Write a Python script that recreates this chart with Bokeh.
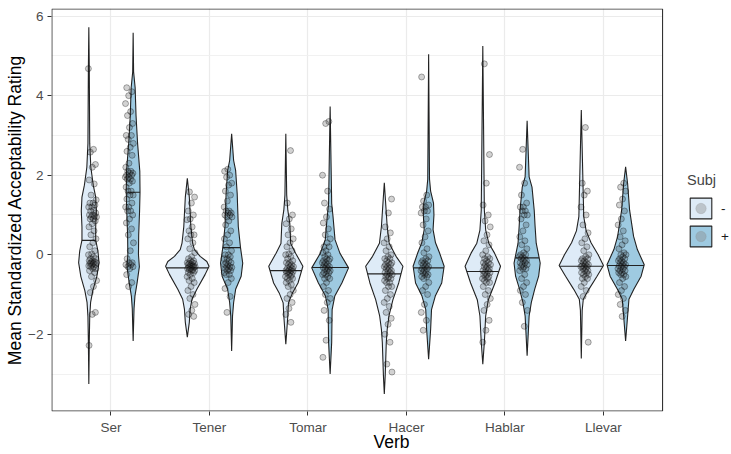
import numpy as np
from bokeh.plotting import figure
from bokeh.models import Range1d, FixedTicker, Legend, LegendItem
from bokeh.embed import file_html
from bokeh.resources import INLINE

verbs = ["Ser", "Tener", "Tomar", "Hacer", "Hablar", "Llevar"]
subj_levels = ["-", "+"]
fill_colors = ["#deebf7", "#9ecae1"]

# ---- violin outlines: rating levels and scaled density (1 = widest violin) ----
ser_m_y = [5.72, 4.7, 2.8, 2.2, 1.75, 1.45, 1.1, 0.7, 0.37, 0.1, -0.2, -0.55, -0.9, -1.2, -1.55, -2.2, -3.25]
ser_m_d = [0, 0.02, 0.04, 0.09, 0.2, 0.31, 0.34, 0.31, 0.31, 0.41, 0.46, 0.36, 0.18, 0.08, 0.04, 0.02, 0]
ser_p_y = [5.58, 4.6, 4.2, 3.5, 2.8, 2.1, 1.57, 1.1, 0.5, 0.0, -0.3, -0.7, -1.04, -1.35, -2.17]
ser_p_d = [0, 0.02, 0.09, 0.13, 0.2, 0.3, 0.31, 0.29, 0.25, 0.24, 0.28, 0.18, 0.08, 0.04, 0]
ten_m_y = [1.92, 1.45, 0.7, 0.29, 0.13, -0.04, -0.17, -0.29, -0.5, -0.87, -1.12, -1.37, -1.7, -2.07]
ten_m_d = [0, 0.09, 0.16, 0.24, 0.32, 0.58, 0.88, 0.98, 0.8, 0.43, 0.21, 0.13, 0.09, 0]
ten_p_y = [3.04, 2.37, 2.12, 1.54, 0.71, 0.18, -0.21, -0.54, -0.87, -1.2, -1.54, -2.42]
ten_p_d = [0, 0.09, 0.18, 0.25, 0.3, 0.4, 0.5, 0.43, 0.18, 0.09, 0.04, 0]
tom_m_y = [3.04, 1.5, 1.12, 0.79, 0.28, 0.04, -0.29, -0.71, -0.96, -1.21, -1.54, -2.25]
tom_m_d = [0, 0.04, 0.09, 0.18, 0.22, 0.44, 0.77, 0.55, 0.3, 0.12, 0.09, 0]
tom_p_y = [3.73, 1.29, 0.96, 0.38, 0.04, -0.33, -0.71, -1.04, -1.38, -2.2, -3.0]
tom_p_d = [0, 0.07, 0.13, 0.22, 0.44, 0.83, 0.53, 0.21, 0.09, 0.07, 0]
hac_m_y = [1.81, 0.71, 0.29, -0.04, -0.29, -0.71, -1.13, -1.54, -1.88, -2.2, -3.04, -3.5]
hac_m_d = [0, 0.13, 0.22, 0.53, 0.84, 0.65, 0.39, 0.21, 0.13, 0.09, 0.04, 0]
hac_p_y = [5.04, 1.9, 1.6, 1.3, 1.0, 0.63, 0.3, 0.05, -0.29, -0.71, -1.04, -1.38, -1.88, -2.63]
hac_p_d = [0, 0.04, 0.09, 0.22, 0.24, 0.2, 0.31, 0.49, 0.7, 0.59, 0.3, 0.13, 0.09, 0]
hab_m_y = [5.25, 1.12, 0.62, 0.29, 0.04, -0.29, -0.71, -1.13, -1.54, -2.2, -2.75]
hab_m_d = [0, 0.07, 0.13, 0.27, 0.53, 0.8, 0.55, 0.25, 0.13, 0.07, 0]
hab_p_y = [3.37, 1.96, 1.7, 1.12, 0.71, 0.29, -0.21, -0.54, -0.87, -1.2, -1.54, -2.54]
hab_p_d = [0, 0.09, 0.22, 0.32, 0.36, 0.41, 0.59, 0.52, 0.34, 0.19, 0.09, 0]
lle_m_y = [3.64, 0.96, 0.6, 0.3, 0.0, -0.27, -0.54, -0.87, -1.12, -1.4, -2.61]
lle_m_d = [0, 0.11, 0.22, 0.44, 0.76, 1.0, 0.71, 0.34, 0.09, 0.04, 0]
lle_p_y = [2.21, 1.79, 1.12, 0.46, 0.13, -0.25, -0.54, -0.87, -1.12, -1.54, -2.17]
lle_p_d = [0, 0.09, 0.18, 0.36, 0.53, 0.84, 0.7, 0.37, 0.15, 0.09, 0]

# ---- medians ----
medians_minus = [0.36, -0.33, -0.40, -0.48, -0.42, -0.29]
medians_plus = [1.57, 0.18, -0.32, -0.33, -0.08, -0.27]

# ---- individual participant ratings ----
ser_m = [4.68, 2.65, 2.58, 2.27, 2.2, 1.88, 1.78, 1.5, 1.38, 1.3, 1.3, 1.25, 1.2, 1.2, 1.12, 1.1, 1.05, 1.0, 1.0,
         0.97, 0.95, 0.95, 0.9, 0.9, 0.85, 0.78, 0.7, 0.6, 0.5, 0.4, 0.3, 0.2, 0.1, 0.02, 0.0, -0.05, -0.1, -0.1,
         -0.15, -0.15, -0.18, -0.2, -0.2, -0.22, -0.22, -0.25, -0.25, -0.28, -0.3, -0.3, -0.35, -0.35, -0.4,
         -0.45, -0.55, -0.65, -0.8, -0.95, -1.45, -1.5, -2.28]
ser_p = [4.2, 4.1, 4.0, 3.8, 3.6, 3.5, 3.3, 3.2, 3.0, 3.0, 2.9, 2.8, 2.7, 2.6, 2.5, 2.3, 2.2, 2.1, 2.1, 2.05,
         2.05, 2.0, 2.0, 1.95, 1.95, 1.9, 1.9, 1.85, 1.8, 1.7, 1.6, 1.6, 1.5, 1.5, 1.4, 1.3, 1.2, 1.2, 1.1, 1.1,
         1.0, 0.9, 0.8, 0.65, 0.5, 0.3, 0.1, -0.1, -0.2, -0.2, -0.25, -0.25, -0.3, -0.3, -0.35, -0.5, -0.7, -0.8]
ten_m = [1.58, 1.45, 1.3, 1.1, 1.0, 0.9, 0.88, 0.7, 0.6, 0.5, 0.5, 0.4, 0.3, 0.15, 0.05, -0.05, -0.1, -0.15,
         -0.15, -0.2, -0.2, -0.22, -0.22, -0.25, -0.25, -0.28, -0.28, -0.3, -0.3, -0.32, -0.32, -0.35, -0.35,
         -0.38, -0.38, -0.4, -0.4, -0.45, -0.45, -0.5, -0.55, -0.6, -0.65, -0.7, -0.8, -0.9, -1.0, -1.1, -1.25,
         -1.4, -1.5, -1.55]
ten_p = [2.15, 2.1, 2.0, 1.95, 1.8, 1.75, 1.6, 1.5, 1.35, 1.2, 1.1, 1.1, 1.05, 1.05, 1.0, 1.0, 0.95, 0.95, 0.85,
         0.75, 0.6, 0.5, 0.4, 0.3, 0.2, 0.1, 0.0, 0.0, -0.05, -0.1, -0.1, -0.15, -0.2, -0.2, -0.25, -0.25, -0.3,
         -0.3, -0.32, -0.35, -0.35, -0.4, -0.4, -0.45, -0.5, -0.5, -0.6, -0.7, -0.85, -1.05, -1.45]
tom_m = [2.62, 1.3, 1.0, 0.9, 0.78, 0.65, 0.5, 0.4, 0.3, 0.2, 0.1, 0.02, 0.0, -0.05, -0.1, -0.15, -0.2, -0.2,
         -0.25, -0.25, -0.3, -0.3, -0.35, -0.35, -0.38, -0.4, -0.4, -0.42, -0.42, -0.45, -0.45, -0.5, -0.5,
         -0.55, -0.55, -0.6, -0.6, -0.65, -0.7, -0.75, -0.8, -0.9, -1.0, -1.1, -1.2, -1.35, -1.5, -1.7]
tom_p = [3.35, 3.3, 2.0, 1.6, 1.3, 1.15, 0.95, 0.8, 0.65, 0.5, 0.4, 0.3, 0.2, 0.2, 0.1, 0.05, 0.0, -0.05,
         -0.1, -0.1, -0.15, -0.15, -0.2, -0.2, -0.25, -0.25, -0.3, -0.3, -0.32, -0.35, -0.35, -0.4, -0.4, -0.45,
         -0.45, -0.5, -0.5, -0.55, -0.6, -0.6, -0.7, -0.8, -0.9, -1.0, -1.1, -1.2, -1.4, -1.65, -2.15, -2.58]
hac_m = [1.4, 1.05, 0.7, 0.55, 0.4, 0.3, 0.2, 0.1, 0.0, -0.05, -0.1, -0.1, -0.15, -0.2, -0.2, -0.25, -0.25,
         -0.3, -0.3, -0.35, -0.35, -0.4, -0.4, -0.45, -0.45, -0.5, -0.5, -0.55, -0.55, -0.6, -0.6, -0.65, -0.7,
         -0.7, -0.8, -0.8, -0.9, -1.0, -1.1, -1.2, -1.3, -1.45, -1.6, -1.75, -2.0, -2.2, -2.75, -2.95]
hac_p = [4.47, 1.5, 1.35, 1.25, 1.2, 1.2, 1.1, 1.1, 1.05, 0.9, 0.75, 0.6, 0.45, 0.3, 0.15, 0.05, -0.05, -0.1,
         -0.15, -0.15, -0.2, -0.2, -0.25, -0.25, -0.3, -0.3, -0.35, -0.35, -0.4, -0.4, -0.45, -0.45, -0.5, -0.5,
         -0.55, -0.55, -0.6, -0.7, -0.8, -0.9, -1.0, -1.25, -1.45, -1.65, -1.9]
hab_m = [4.8, 2.52, 1.8, 1.25, 1.0, 0.85, 0.7, 0.5, 0.35, 0.25, 0.1, 0.0, -0.05, -0.1, -0.1, -0.15, -0.2,
         -0.2, -0.25, -0.25, -0.3, -0.3, -0.35, -0.35, -0.4, -0.4, -0.45, -0.45, -0.5, -0.5, -0.55, -0.55, -0.6,
         -0.6, -0.65, -0.7, -0.7, -0.8, -0.9, -1.0, -1.1, -1.25, -1.4, -1.65, -1.9, -2.2]
hab_p = [2.65, 2.2, 1.8, 1.5, 1.3, 1.2, 1.2, 1.1, 1.1, 1.0, 1.0, 0.9, 0.75, 0.6, 0.45, 0.35, 0.25, 0.15, 0.05,
         0.0, 0.0, -0.05, -0.05, -0.1, -0.1, -0.15, -0.15, -0.2, -0.2, -0.25, -0.25, -0.3, -0.3, -0.35, -0.35,
         -0.4, -0.5, -0.6, -0.7, -0.8, -0.9, -1.0, -1.2, -1.4, -1.8]
lle_m = [3.2, 1.8, 1.6, 1.5, 1.2, 1.0, 0.75, 0.55, 0.4, 0.3, 0.2, 0.1, 0.0, -0.05, -0.1, -0.1, -0.15, -0.15,
         -0.2, -0.2, -0.25, -0.25, -0.28, -0.3, -0.3, -0.3, -0.35, -0.35, -0.4, -0.4, -0.45, -0.45, -0.5, -0.5,
         -0.55, -0.6, -0.6, -0.7, -0.8, -0.9, -1.05, -2.2]
lle_p = [1.8, 1.7, 1.6, 1.4, 1.25, 1.1, 0.9, 0.75, 0.6, 0.45, 0.35, 0.25, 0.15, 0.05, 0.0, 0.0, -0.05, -0.1,
         -0.1, -0.15, -0.15, -0.2, -0.2, -0.25, -0.25, -0.28, -0.3, -0.3, -0.35, -0.35, -0.4, -0.4, -0.45,
         -0.45, -0.5, -0.5, -0.55, -0.6, -0.7, -0.8, -0.9, -1.0, -1.1, -1.25, -1.4, -1.55]

y_ticks = [-2, 0, 2, 4, 6]
y_minor = [-3, -1, 1, 3, 5]

outlines = {
    "-": [(ser_m_y, ser_m_d), (ten_m_y, ten_m_d), (tom_m_y, tom_m_d), (hac_m_y, hac_m_d), (hab_m_y, hab_m_d), (lle_m_y, lle_m_d)],
    "+": [(ser_p_y, ser_p_d), (ten_p_y, ten_p_d), (tom_p_y, tom_p_d), (hac_p_y, hac_p_d), (hab_p_y, hab_p_d), (lle_p_y, lle_p_d)],
}
medians = {"-": medians_minus, "+": medians_plus}
points = {"-": [ser_m, ten_m, tom_m, hac_m, hab_m, lle_m], "+": [ser_p, ten_p, tom_p, hac_p, hab_p, lle_p]}

HALF = 0.225
DODGE = {"-": -0.225, "+": 0.225}
PT_DODGE = {"-": -0.1875, "+": 0.1875}
JIT = 0.042

# panel (data) limits
X_LO, X_HI = 0.4, 6.6
Y_LO, Y_HI = -3.93, 6.18
X_FRAME_HI = 7.3   # frame continues under the legend area

FONT = "Liberation Sans"
W, H = 731, 454
p = figure(width=W, height=H, output_backend="svg", toolbar_location=None,
           x_range=Range1d(X_LO - 0.004, X_FRAME_HI), y_range=Range1d(Y_LO - 0.012, Y_HI + 0.012),
           min_border_left=51, min_border_right=0, min_border_top=8, min_border_bottom=42)

p.background_fill_color = "white"
p.border_fill_color = "white"
p.outline_line_color = None

# grids
p.xgrid.ticker = FixedTicker(ticks=list(range(1, 7)))
p.xgrid.grid_line_color = "#ebebeb"
p.xgrid.grid_line_width = 1.2
p.ygrid.ticker = FixedTicker(ticks=y_ticks, minor_ticks=y_minor)
p.ygrid.grid_line_color = "#ebebeb"
p.ygrid.grid_line_width = 1.2
p.ygrid.minor_grid_line_color = "#efefef"
p.ygrid.minor_grid_line_width = 0.9

# axes
p.xaxis.ticker = FixedTicker(ticks=list(range(1, 7)))
p.xaxis.major_label_overrides = {i + 1: v for i, v in enumerate(verbs)}
p.yaxis.ticker = FixedTicker(ticks=y_ticks, minor_ticks=[])
for ax in (p.xaxis[0], p.yaxis[0]):
    ax.axis_line_color = None
    ax.major_tick_line_color = "#333333"
    ax.major_tick_in = 0
    ax.major_tick_out = 4
    ax.minor_tick_line_color = None
    ax.major_label_text_color = "#4d4d4d"
    ax.major_label_text_font = FONT
    ax.major_label_text_font_size = "13.5px"
    ax.axis_label_text_font = FONT
    ax.axis_label_text_font_style = "normal"
    ax.axis_label_text_color = "black"
    ax.axis_label_text_font_size = "17.5px"
p.xaxis.axis_label = "Verb"
p.xaxis.major_label_standoff = 4
p.xaxis.axis_label_standoff = -6
p.yaxis.axis_label = "Mean Standardized Acceptability Rating"
p.yaxis.major_label_standoff = 4
p.yaxis.axis_label_standoff = 0

# blank the area right of the panel (legend area)
p.quad(left=[X_HI], right=[X_FRAME_HI], bottom=[Y_LO - 1], top=[Y_HI + 1],
       fill_color="white", line_color=None)

legend_items = []
for k, lvl in enumerate(subj_levels):
    xs_list, ys_list = [], []
    mx0, mx1, my = [], [], []
    for i, (oy, od) in enumerate(outlines[lvl]):
        c = i + 1 + DODGE[lvl]
        oy = np.array(oy, dtype=float)
        od = np.array(od, dtype=float) * HALF
        xs_list.append(list(np.concatenate([c - od, (c + od)[::-1]])))
        ys_list.append(list(np.concatenate([oy, oy[::-1]])))
        m = medians[lvl][i]
        wm = np.interp(m, oy[::-1], od[::-1])
        mx0.append(c - wm); mx1.append(c + wm); my.append(m)
    vr = p.patches(xs=xs_list, ys=ys_list, fill_color=fill_colors[k], line_color="#222222", line_width=1.1)
    p.segment(x0=mx0, y0=my, x1=mx1, y1=my, line_color="#222222", line_width=1.1)

    px_all, py_all = [], []
    for i, vals in enumerate(points[lvl]):
        for j, v in enumerate(vals):
            frac = ((j * 0.6180339887 + i * 0.31 + k * 0.17) % 1.0) - 0.5
            px_all.append(i + 1 + PT_DODGE[lvl] + 2 * JIT * frac)
            py_all.append(v)
    p.scatter(x=px_all, y=py_all, size=6, fill_color="#333333", fill_alpha=0.22,
              line_color="#000000", line_alpha=0.4, line_width=0.8)
    # legend-only key dot (faint grey); its single point sits outside the visible x range
    kd = p.scatter(x=[-5.0], y=[0.0], marker="circle", size=6, fill_color="#8a8a8a", fill_alpha=0.4,
                   line_color="#8a8a8a", line_alpha=0.25)
    legend_items.append(LegendItem(label=lvl, renderers=[vr, kd]))

# panel border
p.quad(left=[X_LO], right=[X_HI], bottom=[Y_LO], top=[Y_HI],
       fill_color=None, line_color="#333333", line_width=1.1)

legend = Legend(items=legend_items, location=(636, 162), orientation="vertical",
                title="Subj", title_text_font=FONT, title_text_font_size="14.5px",
                title_text_font_style="normal", title_standoff=7,
                label_text_font=FONT, label_text_font_size="13.5px", label_text_color="#1a1a1a",
                glyph_width=27, glyph_height=26, label_standoff=7, spacing=2,
                padding=0, margin=0, border_line_alpha=0, background_fill_alpha=0)
p.add_layout(legend, "center")

open("out.html", "w").write(file_html(p, INLINE))
